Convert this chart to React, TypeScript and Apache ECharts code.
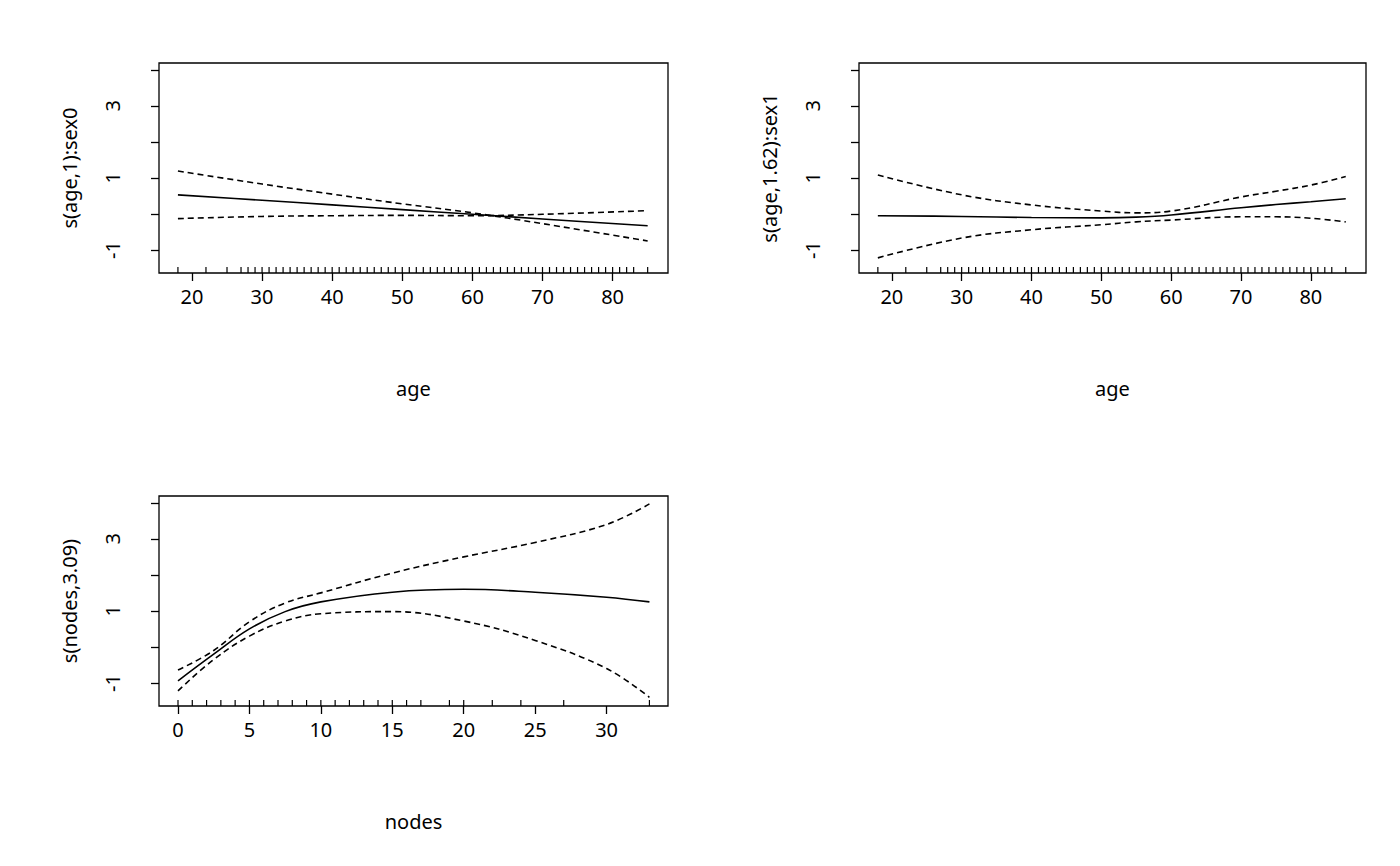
import React, { useEffect, useRef } from "react";
import * as echarts from "echarts";

const ageX = [18, 30, 40, 50, 60, 70, 85];
const fit1 = [0.53, 0.38, 0.25, 0.12, -0.01, -0.14, -0.33];
const up1 = [1.19, 0.83, 0.55, 0.28, 0.03, -0.27, -0.75];
const lo1 = [-0.13, -0.07, -0.05, -0.04, -0.05, -0.01, 0.09];

const ageX2 = [18, 30, 40, 50, 55, 60, 70, 75, 80, 85];
const fit2 = [-0.05, -0.07, -0.1, -0.11, -0.09, -0.03, 0.17, 0.26, 0.34, 0.42];
const up2 = [1.08, 0.53, 0.25, 0.08, 0.03, 0.08, 0.47, 0.63, 0.8, 1.04];
const lo2 = [-1.22, -0.67, -0.44, -0.3, -0.22, -0.17, -0.08, -0.08, -0.12, -0.22];

const nodeX = [0, 2.5, 5, 7.5, 10, 15, 20, 25, 30, 33];
const fit3 = [-0.94, -0.2, 0.5, 0.98, 1.25, 1.52, 1.6, 1.52, 1.38, 1.25];
const up3 = [-0.64, -0.1, 0.7, 1.22, 1.5, 2.05, 2.5, 2.9, 3.4, 3.97];
const lo3 = [-1.22, -0.35, 0.3, 0.72, 0.92, 0.98, 0.72, 0.18, -0.6, -1.4];

const ageRug: number[] = [18, 22, 25];
for (let a = 27; a <= 83; a++) ageRug.push(a);
ageRug.push(85);
const nodeRug = [0, 1, 2, 3, 4, 5, 6, 7, 8, 9, 10, 11, 12, 13, 14, 15, 16, 17, 19, 20, 22, 24, 27, 33];

const ageTicks = [20, 30, 40, 50, 60, 70, 80];
const nodeTicks = [0, 5, 10, 15, 20, 25, 30];
const yTicks = [-1, 0, 1, 2, 3, 4];
const yLabels = [-1, 1, 3];

const FONT = "Noto Sans";
const FS = 20;
const Y_MIN = -1.64;
const Y_MAX = 4.19;

export default function App() {
  const ref = useRef<HTMLDivElement>(null);
  useEffect(() => {
    const chart = echarts.init(ref.current!, undefined, { renderer: "svg" });
    const grids = [
      { left: 159, top: 63, width: 509, height: 210 },
      { left: 859, top: 63, width: 507, height: 210 },
      { left: 159, top: 496, width: 509, height: 210 },
    ].map((g) => ({ ...g, show: true, borderColor: "#000", borderWidth: 1.3, backgroundColor: "transparent" }));

    const xAxis = [
      { min: 15.3, max: 87.9, ticks: ageTicks, name: "age" },
      { min: 15.3, max: 87.9, ticks: ageTicks, name: "age" },
      { min: -1.33, max: 34.3, ticks: nodeTicks, name: "nodes" },
    ].map((a, i) => ({
      type: "value",
      gridIndex: i,
      min: a.min,
      max: a.max,
      name: a.name,
      nameLocation: "middle",
      nameGap: 105,
      nameTextStyle: { fontFamily: FONT, fontSize: FS, color: "#000" },
      splitLine: { show: false },
      axisLine: { show: false, onZero: false },
      axisTick: { show: true, length: 8, customValues: a.ticks, lineStyle: { color: "#000", width: 1.3 } },
      axisLabel: { customValues: a.ticks, margin: 13, fontFamily: FONT, fontSize: FS, color: "#000" },
    }));

    const yNames = ["s(age,1):sex0", "s(age,1.62):sex1", "s(nodes,3.09)"];
    const yAxis = yNames.map((n, i) => ({
      type: "value",
      gridIndex: i,
      min: Y_MIN,
      max: Y_MAX,
      name: n,
      nameLocation: "middle",
      nameRotate: 90,
      nameGap: 80,
      nameTextStyle: { fontFamily: FONT, fontSize: FS, color: "#000" },
      splitLine: { show: false },
      axisLine: { show: false, onZero: false },
      axisTick: { show: true, length: 8, customValues: yTicks, lineStyle: { color: "#000", width: 1.3 } },
      axisLabel: { customValues: yLabels, rotate: 90, margin: 37, fontFamily: FONT, fontSize: FS, color: "#000" },
    }));

    const line = (i: number, xs: number[], ys: number[], dashed: boolean) => ({
      type: "line",
      xAxisIndex: i,
      yAxisIndex: i,
      data: xs.map((x, k) => [x, ys[k]]),
      smooth: 0.4,
      symbol: "none",
      lineStyle: { color: "#000", width: 1.6, type: dashed ? [6, 4] : "solid" },
    });

    const rug = (i: number, xs: number[]) => ({
      type: "custom",
      xAxisIndex: i,
      yAxisIndex: i,
      data: xs.map((x) => [x]),
      renderItem: (_p: any, api: any) => {
        const pt = api.coord([api.value(0), Y_MIN]);
        return {
          type: "line",
          shape: { x1: pt[0], y1: pt[1], x2: pt[0], y2: pt[1] - 6 },
          style: { stroke: "#000", lineWidth: 1.2 },
        };
      },
    });

    chart.setOption({
      animation: false,
      backgroundColor: "#fff",
      grid: grids,
      xAxis,
      yAxis,
      series: [
        line(0, ageX, fit1, false),
        line(0, ageX, up1, true),
        line(0, ageX, lo1, true),
        line(1, ageX2, fit2, false),
        line(1, ageX2, up2, true),
        line(1, ageX2, lo2, true),
        line(2, nodeX, fit3, false),
        line(2, nodeX, up3, true),
        line(2, nodeX, lo3, true),
        rug(0, ageRug),
        rug(1, ageRug),
        rug(2, nodeRug),
      ],
    });
    return () => chart.dispose();
  }, []);
  return <div ref={ref} style={{ position: "fixed", left: 0, top: 0, width: 1400, height: 866 }} />;
}
